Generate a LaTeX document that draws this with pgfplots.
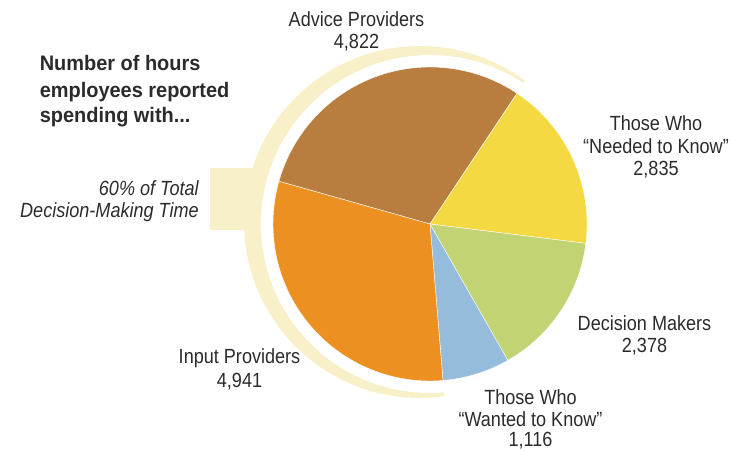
\documentclass[border=0pt]{standalone}
\usepackage{pgfplots}
\usepackage{pgfplotstable}
\pgfplotsset{compat=1.18}
\usepackage{fontspec}
\setmainfont{Liberation Sans}
\newfontfamily\lab[FakeStretch=0.88]{Liberation Sans}
\newfontfamily\ttl[FakeStretch=0.95]{Liberation Sans}
\definecolor{cAdv}{HTML}{B87D3F}
\definecolor{cNeed}{HTML}{F4D942}
\definecolor{cDec}{HTML}{C2D373}
\definecolor{cWant}{HTML}{96BCDC}
\definecolor{cInp}{HTML}{EC9022}
\definecolor{pale}{HTML}{F8F0C8}
\definecolor{txt}{HTML}{2B2B2B}

\pgfplotstableread{
label value
Advice 4822
Needed 2835
Decision 2378
Wanted 1116
Input 4941
}\piedata
\pgfplotstablegetelem{0}{value}\of\piedata \let\vA\pgfplotsretval
\pgfplotstablegetelem{1}{value}\of\piedata \let\vB\pgfplotsretval
\pgfplotstablegetelem{2}{value}\of\piedata \let\vC\pgfplotsretval
\pgfplotstablegetelem{3}{value}\of\piedata \let\vD\pgfplotsretval
\pgfplotstablegetelem{4}{value}\of\piedata \let\vE\pgfplotsretval
\pgfmathsetmacro\total{\vA+\vB+\vC+\vD+\vE}
\pgfmathsetmacro\aA{164.2}
\pgfmathsetmacro\aB{\aA-\vA/\total*360}
\pgfmathsetmacro\aC{\aB-\vB/\total*360}
\pgfmathsetmacro\aD{\aC-\vC/\total*360}
\pgfmathsetmacro\aE{\aD-\vD/\total*360}
\pgfmathsetmacro\aF{\aE-\vE/\total*360}

\newcommand{\lbl}{\lab\fontsize{15.4}{17}\selectfont\color{txt}}
\begin{document}
\begin{tikzpicture}
\begin{axis}[
  scale only axis, width=548.25pt, height=337.5pt,
  xmin=0, xmax=731, ymin=0, ymax=450, y dir=reverse,
  hide axis, clip=false]
% invisible frame
\path (axis cs:0,0) rectangle (axis cs:731,450);
% pale tab
\fill[pale] (axis cs:210,168) rectangle (axis cs:256,230);
% pale crescent
\begin{scope}
\clip (axis cs:430,224)
  -- (axis cs:{430+205*cos(\aB)},{224-205*sin(\aB)})
  -- (axis cs:{430+205*cos(75)},{224-205*sin(75)})
  -- (axis cs:{430+205*cos(95)},{224-205*sin(95)})
  -- (axis cs:{430+205*cos(115)},{224-205*sin(115)})
  -- (axis cs:{430+205*cos(135)},{224-205*sin(135)})
  -- (axis cs:{430+205*cos(155)},{224-205*sin(155)})
  -- (axis cs:{430+205*cos(175)},{224-205*sin(175)})
  -- (axis cs:{430+205*cos(195)},{224-205*sin(195)})
  -- (axis cs:{430+205*cos(215)},{224-205*sin(215)})
  -- (axis cs:{430+205*cos(235)},{224-205*sin(235)})
  -- (axis cs:{430+205*cos(255)},{224-205*sin(255)})
  -- (axis cs:{430+205*cos(\aE)},{224-205*sin(\aE)}) -- cycle;
\fill[pale] (axis cs:420,222) circle[radius=132pt];
\end{scope}
\fill[white] (axis cs:430,224) circle[radius=126.75pt];
% pie wedges
\addplot[fill=cAdv, draw=white, line width=0.3pt, domain=\aB:\aA, samples=80] ({430+157*cos(x)},{224-157*sin(x)}) -- (axis cs:430,224) -- cycle;
\addplot[fill=cNeed, draw=white, line width=0.3pt, domain=\aC:\aB, samples=60] ({430+157*cos(x)},{224-157*sin(x)}) -- (axis cs:430,224) -- cycle;
\addplot[fill=cDec, draw=white, line width=0.3pt, domain=\aD:\aC, samples=60] ({430+157*cos(x)},{224-157*sin(x)}) -- (axis cs:430,224) -- cycle;
\addplot[fill=cWant, draw=white, line width=0.3pt, domain=\aE:\aD, samples=40] ({430+157*cos(x)},{224-157*sin(x)}) -- (axis cs:430,224) -- cycle;
\addplot[fill=cInp, draw=white, line width=0.3pt, domain=\aF:\aE, samples=80] ({430+157*cos(x)},{224-157*sin(x)}) -- (axis cs:430,224) -- cycle;
% title
\node[anchor=base west, inner sep=0pt, font=\ttl\bfseries\fontsize{15.75}{19}\selectfont, text=txt] at (axis cs:39.5,70) {Number of hours};
\node[anchor=base west, inner sep=0pt, font=\ttl\bfseries\fontsize{15.75}{19}\selectfont, text=txt] at (axis cs:39.5,97) {employees reported};
\node[anchor=base west, inner sep=0pt, font=\ttl\bfseries\fontsize{15.75}{19}\selectfont, text=txt] at (axis cs:39.5,122.5) {spending with...};
% italic note
\node[anchor=base east, inner sep=0pt, font=\lbl\itshape] at (axis cs:199,195) {60\% of Total};
\node[anchor=base east, inner sep=0pt, font=\lbl\itshape] at (axis cs:199,217) {Decision-Making Time};
% labels
\node[anchor=base, inner sep=0pt, font=\lbl] at (axis cs:356.5,26.7) {Advice Providers};
\node[anchor=base, inner sep=0pt, font=\lbl] at (axis cs:356.5,48) {4,822};
\node[anchor=base, inner sep=0pt, font=\lbl] at (axis cs:656,130.7) {Those Who};
\node[anchor=base, inner sep=0pt, font=\lbl] at (axis cs:656,153.3) {“Needed to Know”};
\node[anchor=base, inner sep=0pt, font=\lbl] at (axis cs:656,175) {2,835};
\node[anchor=base, inner sep=0pt, font=\lbl] at (axis cs:644.5,330) {Decision Makers};
\node[anchor=base, inner sep=0pt, font=\lbl] at (axis cs:644.5,352.7) {2,378};
\node[anchor=base, inner sep=0pt, font=\lbl] at (axis cs:530.5,404) {Those Who};
\node[anchor=base, inner sep=0pt, font=\lbl] at (axis cs:530.5,426) {“Wanted to Know”};
\node[anchor=base, inner sep=0pt, font=\lbl] at (axis cs:530.5,446.5) {1,116};
\node[anchor=base, inner sep=0pt, font=\lbl] at (axis cs:239.5,363) {Input Providers};
\node[anchor=base, inner sep=0pt, font=\lbl] at (axis cs:239.5,387) {4,941};
\end{axis}
\end{tikzpicture}
\end{document}
